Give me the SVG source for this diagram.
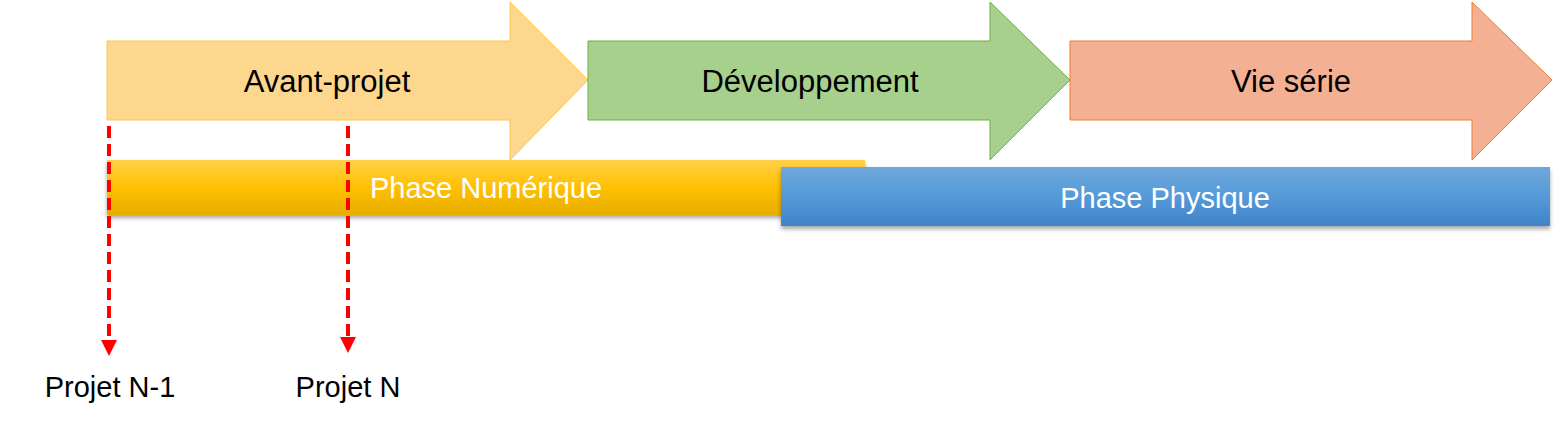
<svg xmlns="http://www.w3.org/2000/svg" width="1562" height="432" viewBox="0 0 1562 432">
<style>
.t{font-family:"Liberation Sans",Arial,sans-serif;font-size:31px;fill:#000;text-anchor:middle}
.w{font-family:"Liberation Sans",Arial,sans-serif;font-size:29px;fill:#fff;text-anchor:middle}
.d{stroke:#ff0000;stroke-width:4;stroke-dasharray:12,6;fill:none}
</style>
<defs>
<linearGradient id="gy" x1="0" y1="0" x2="0" y2="1"><stop offset="0" stop-color="#ffd04a"/><stop offset="0.5" stop-color="#ffc000"/><stop offset="1" stop-color="#e6ad00"/></linearGradient>
<linearGradient id="gb" x1="0" y1="0" x2="0" y2="1"><stop offset="0" stop-color="#6fa8dc"/><stop offset="0.5" stop-color="#559ad8"/><stop offset="1" stop-color="#3f84c8"/></linearGradient>
<marker id="ah" markerWidth="4" markerHeight="4" refX="2" refY="2" orient="auto" markerUnits="strokeWidth"><path d="M0,0 L4,2 L0,4 z" fill="#ff0000"/></marker>
<filter id="sh" x="-5%" y="-20%" width="110%" height="150%"><feDropShadow dx="0" dy="3" stdDeviation="2" flood-color="#000" flood-opacity="0.35"/></filter>
</defs>
<g id="avant-projet"><path d="M107,41 H510 V2 L588,80 L510,160 V120 H107 Z" fill="#fdd78e" stroke="#f9c849" stroke-width="1"/><text class="t" x="327" y="92">Avant-projet</text></g>
<g id="developpement"><path d="M588,41 H990 V2 L1070,80 L990,160 V120 H588 Z" fill="#a8d08d" stroke="#70ad47" stroke-width="1"/><text class="t" x="810" y="92">Développement</text></g>
<g id="vie-serie"><path d="M1070,41 H1472 V2 L1552,80 L1472,160 V120 H1070 Z" fill="#f4b093" stroke="#ed7d31" stroke-width="1"/><text class="t" x="1291" y="92">Vie série</text></g>
<g id="phase-numerique"><rect x="107" y="160" width="758" height="55" fill="url(#gy)" filter="url(#sh)"/><text class="w" x="486" y="198">Phase Numérique</text></g>
<g id="phase-physique"><rect x="781" y="167" width="769" height="59" fill="url(#gb)" filter="url(#sh)"/><text class="w" x="1165" y="208">Phase Physique</text></g>
<g id="connectors">
<line class="d" x1="109" y1="126" x2="109" y2="348" marker-end="url(#ah)"/>
<line class="d" x1="348" y1="126" x2="348" y2="345" marker-end="url(#ah)"/>
</g>
<g id="labels">
<text class="t" x="110" y="397" style="font-size:29px">Projet N-1</text>
<text class="t" x="348" y="397" style="font-size:29px">Projet N</text>
</g>
</svg>
